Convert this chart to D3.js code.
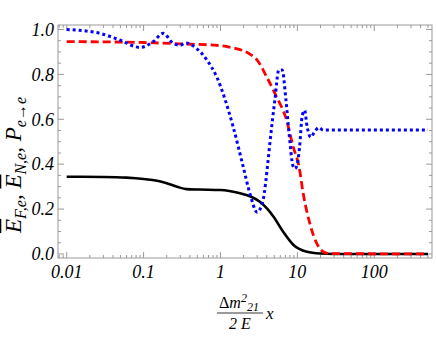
<!DOCTYPE html>
<html>
<head>
<meta charset="utf-8">
<script src="https://cdn.jsdelivr.net/npm/d3@7"></script>
<style>
  body { margin: 0; background: #fff; }
</style>
</head>
<body>
<div id="chart"></div>
<script>
const width = 436, height = 338;

// ---- data ----
const blackX = [0.01, 0.03, 0.06, 0.1, 0.15, 0.2, 0.28, 0.36, 0.54, 1, 1.8, 2.5, 3.25, 4.1, 4.9, 6.5, 8.9, 13.3, 20, 30, 500];
const blackY = [0.344, 0.343, 0.34, 0.334, 0.326, 0.315, 0.298, 0.289, 0.287, 0.285, 0.27, 0.255, 0.233, 0.2, 0.166, 0.1, 0.04, 0.01, 0.002, 0.0, 0.0];

const redX = [0.01, 0.1, 0.3, 1, 1.46, 2, 2.5, 3, 3.97, 5.36, 7.23, 8.81, 10.5, 11.9, 14.5, 17.8, 21.7, 26, 500];
const redY = [0.946, 0.942, 0.936, 0.928, 0.918, 0.905, 0.887, 0.864, 0.79, 0.70, 0.597, 0.478, 0.39, 0.27, 0.137, 0.048, 0.01, 0.002, 0.0];

const blueX = [0.01, 0.027, 0.049, 0.09, 0.134, 0.18, 0.24, 0.3, 0.35, 0.49, 0.66, 0.89, 1.46, 1.97, 2.41, 3.0, 3.58, 4.17, 4.38, 5.1, 5.74, 6.35, 7.1, 7.8, 8.8, 9.3, 9.9, 10.7, 11.5, 12.4, 13.4, 14.9, 16.8, 19.0, 21.7, 500];
const blueY = [1.0, 0.983, 0.953, 0.92, 0.946, 0.983, 0.94, 0.93, 0.94, 0.915, 0.866, 0.79, 0.567, 0.39, 0.27, 0.186, 0.24, 0.42, 0.49, 0.686, 0.82, 0.82, 0.686, 0.537, 0.39, 0.38, 0.396, 0.478, 0.61, 0.64, 0.567, 0.52, 0.545, 0.563, 0.552, 0.552];

const xTickVals = [0.01, 0.1, 1, 10, 100];
const xTickLabels = ["0.01", "0.1", "1", "10", "100"];
const yTickVals = [0, 0.2, 0.4, 0.6, 0.8, 1.0];
const yTickLabels = ["0.0", "0.2", "0.4", "0.6", "0.8", "1.0"];

// ---- layout ----
const marginLeft = 58, plotRight = 432, marginTop = 25, plotBottom = 258;
const serif = "'Liberation Serif', 'Times New Roman', 'DejaVu Serif', serif";

const x = d3.scaleLog()
  .domain([Math.pow(10, -2.113), Math.pow(10, 2.751)])
  .range([marginLeft, plotRight]);
const y = d3.scaleLinear()
  .domain([-0.018, 1.02])
  .range([plotBottom, marginTop]);

const svg = d3.select("#chart").append("svg")
  .attr("width", width)
  .attr("height", height)
  .attr("font-family", serif)
  .attr("font-style", "italic");

const frameColor = "#999";

// frame
svg.append("rect")
  .attr("x", marginLeft).attr("y", marginTop)
  .attr("width", plotRight - marginLeft).attr("height", plotBottom - marginTop)
  .attr("fill", "none").attr("stroke", frameColor).attr("stroke-width", 1);

// x ticks (major + minor), on bottom and top, pointing inward
const xMinor = [];
for (let e = -3; e <= 3; e++) {
  for (let m = 1; m <= 9; m++) {
    const v = m * Math.pow(10, e);
    if (x(v) >= marginLeft && x(v) <= plotRight) xMinor.push({ v, major: m === 1 });
  }
}
const tg = svg.append("g").attr("stroke", frameColor).attr("stroke-width", 1);
xMinor.forEach(d => {
  const len = d.major ? 6 : 3;
  tg.append("line").attr("x1", x(d.v)).attr("x2", x(d.v)).attr("y1", plotBottom).attr("y2", plotBottom - len);
  tg.append("line").attr("x1", x(d.v)).attr("x2", x(d.v)).attr("y1", marginTop).attr("y2", marginTop + len);
});

// y ticks, every 0.05, major at 0.2
d3.range(0, 1.0001, 0.05).forEach((v, i) => {
  const major = i % 4 === 0;
  const len = major ? 6 : 3;
  tg.append("line").attr("x1", marginLeft).attr("x2", marginLeft + len).attr("y1", y(v)).attr("y2", y(v));
  tg.append("line").attr("x1", plotRight).attr("x2", plotRight - len).attr("y1", y(v)).attr("y2", y(v));
});

// tick labels
svg.selectAll(".xlab")
  .data(xTickVals)
  .enter().append("text")
  .attr("x", d => x(d))
  .attr("y", 278)
  .attr("text-anchor", "middle")
  .attr("font-size", 18)
  .text((d, i) => xTickLabels[i]);

svg.selectAll(".ylab")
  .data(yTickVals)
  .enter().append("text")
  .attr("x", 54)
  .attr("y", d => y(d))
  .attr("dy", "0.35em")
  .attr("text-anchor", "end")
  .attr("font-size", 18)
  .text((d, i) => yTickLabels[i]);

// curves
const line = d3.line()
  .x(d => x(d[0]))
  .y(d => y(d[1]))
  .curve(d3.curveMonotoneX);

svg.append("path")
  .datum(blackX.map((v, i) => [v, blackY[i]]))
  .attr("d", line)
  .attr("fill", "none")
  .attr("stroke", "#000")
  .attr("stroke-width", 2.6);

svg.append("path")
  .datum(redX.map((v, i) => [v, redY[i]]))
  .attr("d", line)
  .attr("fill", "none")
  .attr("stroke", "#ff0000")
  .attr("stroke-width", 2.8)
  .attr("stroke-dasharray", "8,4");

svg.append("path")
  .datum(blueX.map((v, i) => [v, blueY[i]]))
  .attr("d", line)
  .attr("fill", "none")
  .attr("stroke", "#0000ff")
  .attr("stroke-width", 3)
  .attr("stroke-dasharray", "3,3");

// y axis label
const yl = svg.append("text")
  .attr("transform", "translate(21,165) rotate(-90)")
  .attr("text-anchor", "middle")
  .attr("font-size", 23);
const addE = (sub) => {
  yl.append("tspan").style("text-decoration", "overline").text("E");
  yl.append("tspan").attr("dy", 5).attr("font-size", 16).text(sub);
  yl.append("tspan").attr("dy", -5).text(", ");
};
addE("F,e");
addE("N,e");
yl.append("tspan").text("P");
yl.append("tspan").attr("dy", 5).attr("font-size", 16).text("e\u2192e");

// x axis label: fraction
const num = svg.append("text")
  .attr("x", 239).attr("y", 308)
  .attr("text-anchor", "middle")
  .attr("font-size", 16);
num.append("tspan").attr("font-style", "normal").text("\u0394");
num.append("tspan").text("m");
num.append("tspan").attr("dy", -6).attr("font-size", 12).text("2");
num.append("tspan").attr("dy", 9).attr("font-size", 12).text("21");

svg.append("line")
  .attr("x1", 217).attr("x2", 263)
  .attr("y1", 313).attr("y2", 313)
  .attr("stroke", "#000").attr("stroke-width", 0.8);

svg.append("text")
  .attr("x", 240).attr("y", 329)
  .attr("text-anchor", "middle")
  .attr("font-size", 16)
  .text("2 E");

svg.append("text")
  .attr("x", 266).attr("y", 319)
  .attr("font-size", 17)
  .text("x");
</script>
</body>
</html>
